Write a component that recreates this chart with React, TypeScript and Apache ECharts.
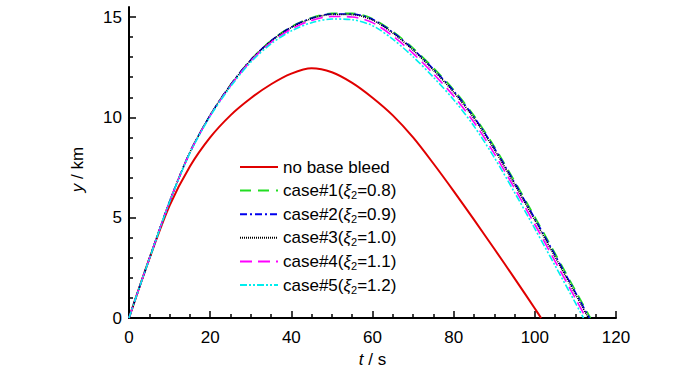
import React, { useEffect, useRef } from "react";
import * as echarts from "echarts";

// time samples (s)
const T_COMMON = [0, 2, 5, 10, 15, 20, 25, 30, 35, 40, 45, 50, 55, 60, 65, 70, 75, 80, 85, 90, 95, 100, 105, 110];
const T_RED = [0, 2, 5, 10, 15, 20, 25, 30, 35, 40, 45, 50, 55, 60, 65, 70, 75, 80, 85, 90, 95, 100];

// altitude (km)
const Y_NO_BLEED = [0, 1.2, 2.95, 5.6, 7.55, 9.0, 10.1, 10.95, 11.65, 12.18, 12.45, 12.25, 11.72, 10.98, 10.1, 9.0, 7.7, 6.325, 4.9, 3.45, 1.975, 0.475];
const LAND_NO_BLEED = 101.55;

const Y_CASE1 = [0, 1.2, 2.95, 5.8, 8.26, 10.11, 11.62, 12.87, 13.83, 14.52, 14.965, 15.18, 15.18, 14.92, 14.285, 13.45, 12.465, 11.38, 10.09, 8.55, 6.83, 5.04, 3.215, 1.37];
const Y_CASE2 = [0, 1.2, 2.95, 5.8, 8.255, 10.105, 11.61, 12.86, 13.815, 14.5, 14.94, 15.155, 15.15, 14.885, 14.24, 13.4, 12.41, 11.315, 10.02, 8.475, 6.75, 4.955, 3.13, 1.28];
const Y_CASE3 = [0, 1.2, 2.95, 5.8, 8.25, 10.1, 11.6, 12.85, 13.8, 14.48, 14.92, 15.13, 15.12, 14.85, 14.2, 13.35, 12.35, 11.25, 9.95, 8.4, 6.67, 4.87, 3.04, 1.19];
const Y_CASE4 = [0, 1.2, 2.95, 5.8, 8.24, 10.08, 11.57, 12.81, 13.74, 14.4, 14.83, 15.03, 15.005, 14.72, 14.055, 13.19, 12.175, 11.06, 9.755, 8.2, 6.465, 4.66, 2.825, 0.97];
const Y_CASE5 = [0, 1.2, 2.94, 5.78, 8.215, 10.05, 11.525, 12.75, 13.665, 14.31, 14.72, 14.9, 14.865, 14.57, 13.895, 13.02, 12.0, 10.88, 9.565, 8.0, 6.26, 4.45, 2.61, 0.75];
const LAND_CASES = [113.7, 113.45, 113.2, 112.6, 112.0];
const XI_VALUES = ["0.8", "0.9", "1.0", "1.1", "1.2"];

const X_TICKS = [0, 20, 40, 60, 80, 100, 120];
const Y_TICKS = [0, 5, 10, 15];
const Y_MINOR = [1, 2, 3, 4, 6, 7, 8, 9, 11, 12, 13, 14];

const NAME_NO_BLEED = "no base bleed";
const CASE_NAMES = XI_VALUES.map((v, i) => `case#${i + 1}(ξ2=${v})`);

const FONT = "'Liberation Sans', Arial, sans-serif";

export default function App() {
  const ref = useRef<HTMLDivElement>(null);
  useEffect(() => {
    if (!ref.current) return;
    const chart = echarts.init(ref.current, undefined, { renderer: "svg" });

    const caseY = [Y_CASE1, Y_CASE2, Y_CASE3, Y_CASE4, Y_CASE5];
    const caseColors = ["#22dd22", "#0000ee", "#000000", "#ff00ff", "#00eeee"];
    const caseDash: any[] = [[11, 7], [7, 3, 2, 3], [1, 1], [12, 6], [7, 2, 2, 2, 2, 2]];

    const legendRich: Record<string, string> = { [NAME_NO_BLEED]: `{a|${NAME_NO_BLEED}}` };
    CASE_NAMES.forEach((n, i) => {
      legendRich[n] = `{a|case#${i + 1}(}{xi|ξ}{sub|2}{a|=${XI_VALUES[i]})}`;
    });

    const series: any[] = [
      {
        name: NAME_NO_BLEED,
        type: "line",
        data: T_RED.map((t, i) => [t, Y_NO_BLEED[i]]).concat([[LAND_NO_BLEED, 0]]),
        symbol: "none",
        smooth: 0.3,
        lineStyle: { color: "#e00000", width: 2 },
        itemStyle: { color: "#e00000" },
        z: 2,
      },
      ...CASE_NAMES.map((n, i) => ({
        name: n,
        type: "line",
        data: T_COMMON.map((t, j) => [t, caseY[i][j]]).concat([[LAND_CASES[i], 0]]),
        symbol: "none",
        smooth: 0.3,
        lineStyle: { color: caseColors[i], width: 1.6, type: caseDash[i] },
        itemStyle: { color: caseColors[i] },
        z: 3,
      })),
    ];

    chart.setOption({
      animation: false,
      backgroundColor: "#ffffff",
      grid: { left: 129, right: 84, top: 7, bottom: 53.5, containLabel: false },
      legend: {
        orient: "vertical",
        left: 234,
        top: 152,
        itemWidth: 38,
        itemHeight: 14,
        itemGap: 3.6,
        itemStyle: { opacity: 0 },
        data: [NAME_NO_BLEED, ...CASE_NAMES],
        formatter: (name: string) => legendRich[name],
        textStyle: {
          color: "#000",
          fontFamily: FONT,
          fontSize: 17,
          lineHeight: 20,
          rich: {
            a: { fontFamily: FONT, fontSize: 17, color: "#000" },
            xi: { fontFamily: FONT, fontSize: 17, fontStyle: "italic", color: "#000" },
            sub: { fontFamily: FONT, fontSize: 11, color: "#000", verticalAlign: "bottom", lineHeight: 12 },
          },
        },
      },
      xAxis: {
        type: "value",
        min: X_TICKS[0],
        max: X_TICKS[X_TICKS.length - 1],
        interval: 20,
        name: "{i|t} / s",
        nameLocation: "middle",
        nameGap: 33,
        nameTextStyle: {
          fontFamily: FONT,
          fontSize: 17,
          color: "#000",
          rich: { i: { fontFamily: FONT, fontSize: 17, fontStyle: "italic", color: "#000" } },
        },
        axisLine: { show: true, onZero: false, lineStyle: { color: "#000", width: 2 } },
        axisTick: { show: true, inside: true, length: 7, lineStyle: { color: "#000", width: 1.5 } },
        minorTick: { show: true, splitNumber: 4, length: 4, lineStyle: { color: "#000", width: 1.5 } },
        axisLabel: { color: "#000", fontFamily: FONT, fontSize: 17, margin: 11 },
        splitLine: { show: false },
        minorSplitLine: { show: false },
      },
      yAxis: [
        {
          type: "value",
          min: 0,
          max: 15.5,
          name: "{i|y} / km",
          nameLocation: "middle",
          nameGap: 43,
          nameRotate: 90,
          nameTextStyle: {
            fontFamily: FONT,
            fontSize: 17,
            color: "#000",
            padding: [0, 14, 0, 0],
            rich: { i: { fontFamily: FONT, fontSize: 17, fontStyle: "italic", color: "#000" } },
          },
          axisLine: { show: true, onZero: false, lineStyle: { color: "#000", width: 2 } },
          axisTick: { show: true, inside: true, length: 7, customValues: Y_TICKS, lineStyle: { color: "#000", width: 1.5 } },
          axisLabel: { color: "#000", fontFamily: FONT, fontSize: 17, margin: 7, customValues: Y_TICKS },
          splitLine: { show: false },
        },
        {
          type: "value",
          min: 0,
          max: 15.5,
          position: "left",
          axisLine: { show: false },
          axisTick: { show: true, inside: true, length: 4, customValues: Y_MINOR, lineStyle: { color: "#000", width: 1.5 } },
          axisLabel: { show: false },
          splitLine: { show: false },
        },
      ],
      series,
    });
    return () => chart.dispose();
  }, []);
  return (
    <div
      ref={ref}
      style={{ position: "fixed", left: 0, top: 0, width: 700, height: 373, background: "#fff" }}
    />
  );
}
